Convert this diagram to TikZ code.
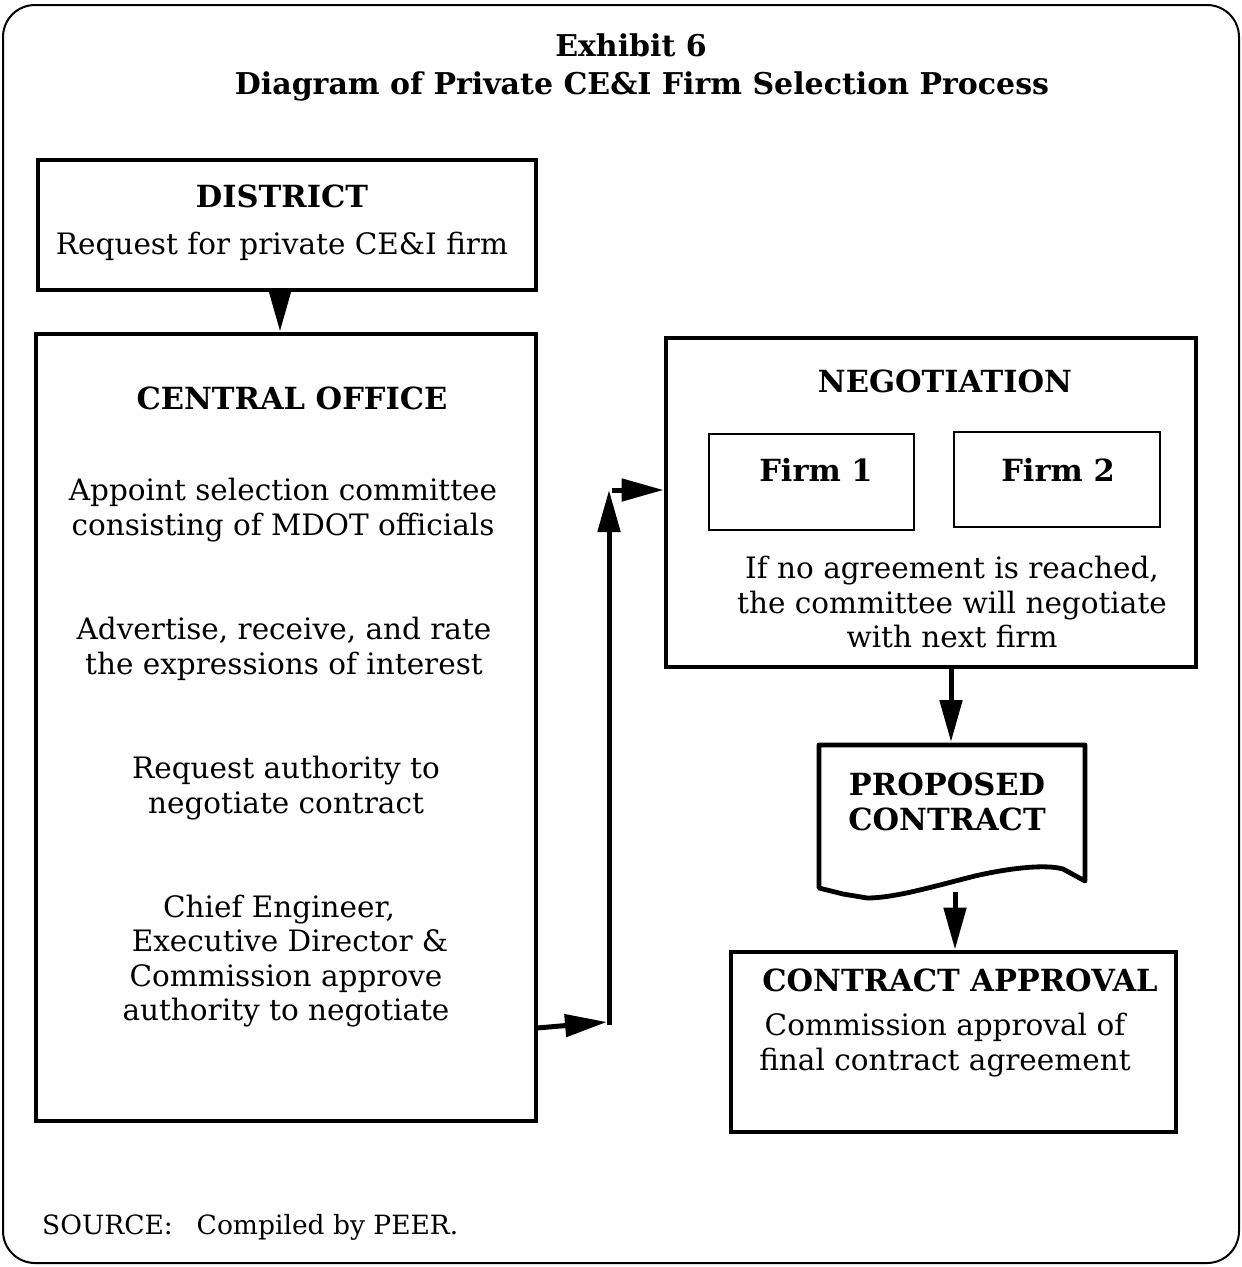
\documentclass[tikz,border=0pt]{standalone}
\usepackage{fontspec}
\setmainfont{DejaVu Serif}
\usetikzlibrary{arrows.meta}
\tikzset{
  box/.style={draw, line width=4.8pt, inner sep=0pt},
  arr/.style={line width=5pt, -{Triangle[length=42pt,width=22pt]}},
  txt/.style={align=center, font=\fontsize{29.5}{34.5}\selectfont, inner sep=0pt},
  hd/.style={align=center, font=\fontsize{30.5}{35}\selectfont\bfseries, inner sep=0pt},
}
\begin{document}
\begin{tikzpicture}[x=1pt,y=-1pt]
\useasboundingbox (0,0) rectangle (1242,1267);
\draw[line width=2pt, rounded corners=32pt] (3,5) rectangle (1239,1263);

% title
\node[hd, font=\fontsize{30}{35}\selectfont\bfseries] (t1) at (631,45) {Exhibit 6};
\node[hd, font=\fontsize{30}{35}\selectfont\bfseries] (t2) at (642,86) {Diagram of Private CE\&I Firm Selection Process};

% district
\node[box, minimum width=498pt, minimum height=130pt] (district) at (287,225) {};
\node[hd] (dtitle) at (282,196) {DISTRICT};
\node[txt] (dtext) at (282,246) {Request for private CE\&I firm};

% central office
\node[box, minimum width=500pt, minimum height=787pt] (central) at (286,727.5) {};
\node[hd] (ctitle) at (292,398) {CENTRAL OFFICE};
\node[txt] (c1t) at (283,510) {Appoint selection committee\\consisting of MDOT officials};
\node[txt] (c2t) at (284,649) {Advertise, receive, and rate\\the expressions of interest};
\node[txt] (c3t) at (286,788) {Request authority to\\negotiate contract};
\node[txt] (c4t) at (286,961) {Chief Engineer,\hspace*{14pt}\\\hspace*{8pt}Executive Director \&\\Commission approve\\authority to negotiate};

% negotiation
\node[box, minimum width=530pt, minimum height=329pt] (negotiation) at (931,502.5) {};
\node[hd] (ntitle) at (945,381) {NEGOTIATION};
\node[box, line width=2.8pt, minimum width=205pt, minimum height=96pt] (firm1) at (811.5,482) {};
\node[box, line width=2.8pt, minimum width=206pt, minimum height=95pt] (firm2) at (1057,479.5) {};
\node[hd] (f1t) at (816,470) {Firm 1};
\node[hd] (f2t) at (1058,470) {Firm 2};
\node[txt] (ntext) at (952,602) {If no agreement is reached,\\the committee will negotiate\\with next firm};

% proposed contract (document shape)
\draw[line width=4.8pt, line join=round] (819,745) -- (1085,745) -- (1085,881) -- (1063,869)
  .. controls (1045,864) and (1010,868) .. (975,876)
  .. controls (935,886) and (895,898) .. (867,898)
  -- (843,894) -- (819,888) -- cycle;
\node[hd] (prop) at (947,802) {PROPOSED\\CONTRACT};

% contract approval
\node[box, minimum width=445pt, minimum height=180pt] (approval) at (953.5,1042) {};
\node[hd] (atitle) at (960,980) {CONTRACT APPROVAL};
\node[txt] (atext) at (945,1045) {Commission approval of\\final contract agreement};

% source
\node[anchor=west, inner sep=0pt, font=\fontsize{26.5}{30}\selectfont] (src) at (42,1227) {SOURCE:\hspace{0.9em}Compiled by PEER.};

% connectors
\coordinate (c1) at (537,1028);
\coordinate (j1) at (607,1022);
\coordinate (j2) at (609,1025);
\coordinate (j3) at (609,490);
\coordinate (j4) at (612,490);
\coordinate (a1) at (951,742);
\coordinate (a2) at (955,892);
\draw[arr] ([xshift=-7pt]district.south) -- ([xshift=-6pt]central.north);
\draw[arr] (c1) -- (j1);
\draw[arr] (j2) -- (j3);
\draw[arr] (j4) -- (negotiation.west |- j4);
\draw[arr] (negotiation.south -| a1) -- (a1);
\draw[arr] (a2) -- (approval.north -| a2);
\end{tikzpicture}
\end{document}
